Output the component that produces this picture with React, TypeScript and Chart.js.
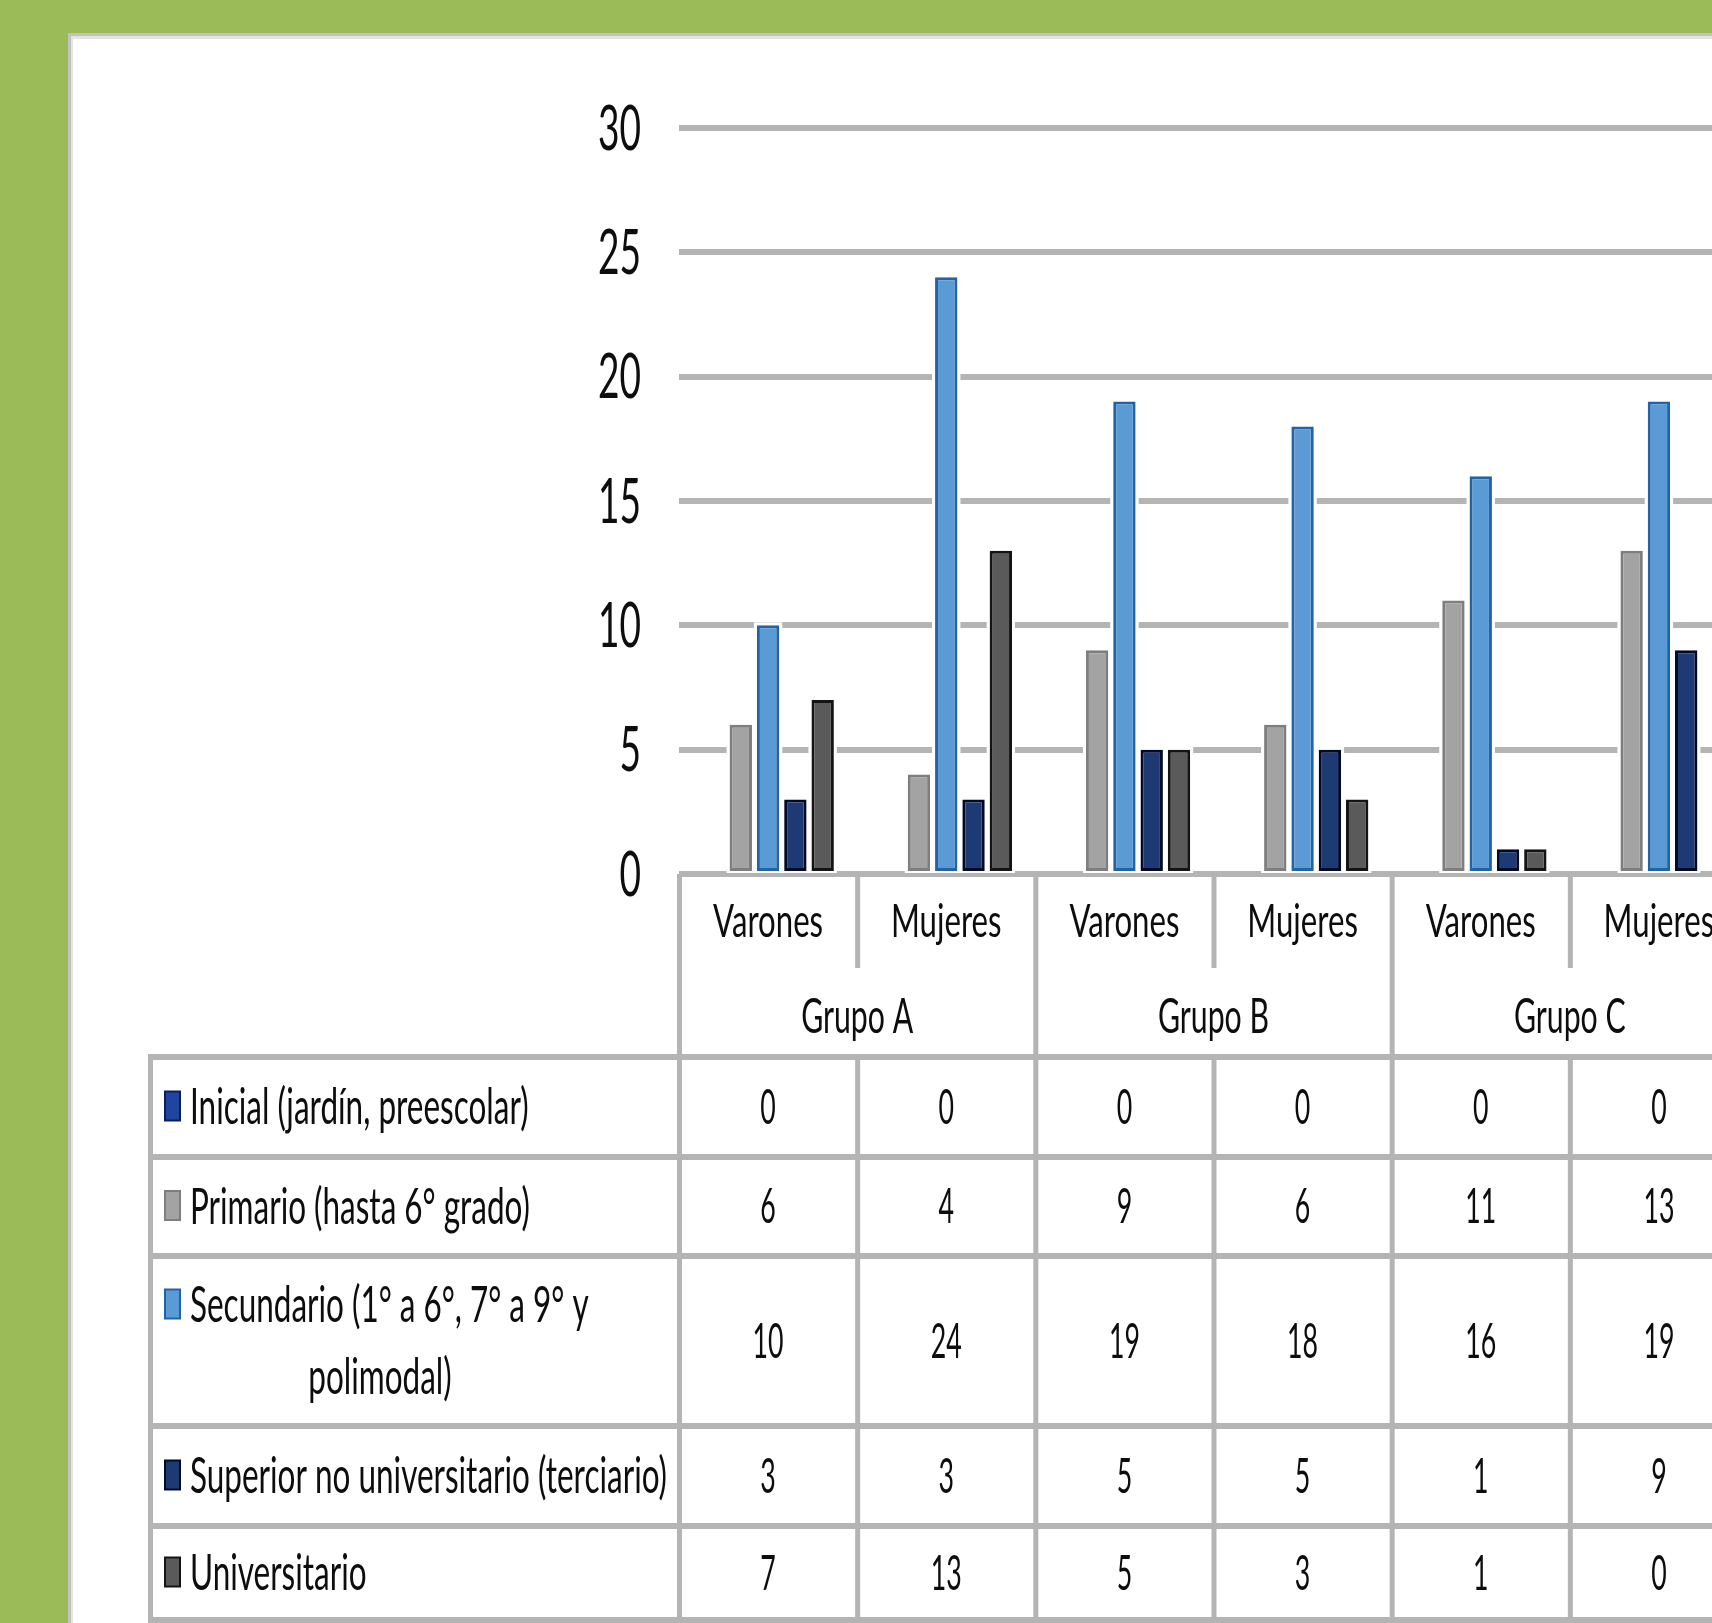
import { useEffect, useRef } from 'react';
import { Chart, registerables } from 'chart.js';

Chart.register(...registerables);

// ---------- data ----------
const GROUPS = ['Grupo A', 'Grupo B', 'Grupo C'];
const SUBGROUPS = ['Varones', 'Mujeres', 'Varones', 'Mujeres', 'Varones', 'Mujeres'];
const SERIES_LINES = [
  ['Inicial (jardín, preescolar)'],
  ['Primario (hasta 6° grado)'],
  ['Secundario (1° a 6°, 7° a 9° y', 'polimodal)'],
  ['Superior no universitario (terciario)'],
  ['Universitario'],
];
const INICIAL = [0, 0, 0, 0, 0, 0];
const PRIMARIO = [6, 4, 9, 6, 11, 13];
const SECUNDARIO = [10, 24, 19, 18, 16, 19];
const SUPERIOR = [3, 3, 5, 5, 1, 9];
const UNIVERSITARIO = [7, 13, 5, 3, 1, 0];
const Y_MIN = 0;
const Y_MAX = 30;
const Y_STEP = 5;

// ---------- style / layout ----------
const FILLS = ['#1f45a0', '#a3a3a3', '#5b9bd5', '#1d3a74', '#5a5a5a'];
const BORDERS = ['#0b1f5e', '#7e7e7e', '#2262a6', '#000a26', '#141414'];
const GREEN = '#9bbb59';
const LINE_COLOR = '#b4b4b4';
const TEXT_COLOR = '#0d0d0d';
const FONT_FAMILY = 'Lato, "Open Sans", "DejaVu Sans", sans-serif';

const CANVAS_W = 1800;
const CANVAS_H = 1623;
const PLOT_LEFT = 679;
const PLOT_RIGHT = 1748;
const PLOT_TOP = 128;
const PLOT_BOTTOM = 874;
const TICK_RIGHT = 641;
const CAT_ROW_Y = 920;
const CAT_ROW_BOTTOM = 968;
const GROUP_ROW_Y = 1015;
const TABLE_LEFT = 150;
const TABLE_TOP = 1057;
const ROW_LINES = [1157, 1256, 1426, 1526, 1620];
const KEY_X = 164;
const KEY_W = 17;
const KEY_H = 31;
const LABEL_X = 190;
const WRAP_LINE_X = 380;
const LINE_GAP = 72;

type TStyle = { font: string; sx: number; cap: number };

function makeStyle(ctx: CanvasRenderingContext2D, cap: number, ref: string, refW: number): TStyle {
  ctx.save();
  ctx.font = `100px ${FONT_FAMILY}`;
  const capH = ctx.measureText('H').actualBoundingBoxAscent || 71.6;
  const size = (100 * cap) / capH;
  const font = `${size.toFixed(2)}px ${FONT_FAMILY}`;
  ctx.font = font;
  const w = ctx.measureText(ref).width || refW;
  ctx.restore();
  return { font, sx: refW / w, cap };
}

function drawText(
  ctx: CanvasRenderingContext2D,
  text: string,
  x: number,
  yCenter: number,
  align: CanvasTextAlign,
  st: TStyle
) {
  ctx.save();
  ctx.font = st.font;
  ctx.fillStyle = TEXT_COLOR;
  ctx.textAlign = align;
  ctx.textBaseline = 'alphabetic';
  ctx.translate(x, yCenter + st.cap / 2);
  ctx.scale(st.sx, 1);
  ctx.fillText(text, 0, 0);
  ctx.restore();
}

const backgroundPlugin = {
  id: 'bgPanel',
  beforeDraw(chart: any) {
    const ctx = chart.ctx as CanvasRenderingContext2D;
    ctx.save();
    ctx.fillStyle = GREEN;
    ctx.fillRect(0, 0, chart.width, chart.height);
    ctx.fillStyle = '#c2c2c2';
    ctx.fillRect(68, 33, chart.width, chart.height);
    ctx.fillStyle = '#e4e4e4';
    ctx.fillRect(71, 36, chart.width, chart.height);
    ctx.fillStyle = '#ffffff';
    ctx.fillRect(73, 39, chart.width, chart.height);
    ctx.restore();
  },
};

const haloPlugin = {
  id: 'barHalo',
  beforeDatasetsDraw(chart: any) {
    const ctx = chart.ctx as CanvasRenderingContext2D;
    ctx.save();
    ctx.fillStyle = '#ffffff';
    chart.data.datasets.forEach((ds: any, di: number) => {
      const meta = chart.getDatasetMeta(di);
      meta.data.forEach((el: any, i: number) => {
        if (!ds.data[i]) return;
        const w = el.width;
        ctx.fillRect(el.x - w / 2 - 3, el.y - 3, w + 6, el.base - el.y + 5);
      });
    });
    ctx.restore();
  },
};

const tablePlugin = {
  id: 'dataTable',
  afterDraw(chart: any) {
    const ctx = chart.ctx as CanvasRenderingContext2D;
    const xs = chart.scales.x;
    const ys = chart.scales.y;
    const n = SUBGROUPS.length;
    const catW = (xs.right - xs.left) / n;
    const bounds: number[] = [];
    for (let i = 0; i <= n; i++) {
      bounds.push(i < n ? xs.getPixelForValue(i) - catW / 2 : xs.getPixelForValue(n - 1) + catW / 2);
    }
    const base = ys.getPixelForValue(0);
    const tableBottom = ROW_LINES[ROW_LINES.length - 1];

    const tickSt = makeStyle(ctx, 45, '30', 43);
    const catSt = makeStyle(ctx, 34, 'Varones', 110);
    const grpSt = makeStyle(ctx, 35, 'Grupo A', 112);
    const lblSt = makeStyle(ctx, 36, 'Superior no universitario (terciario)', 477);
    const valSt = makeStyle(ctx, 35, '10', 31);

    // y tick labels
    ys.ticks.forEach((t: any) => {
      drawText(ctx, String(t.value), TICK_RIGHT, ys.getPixelForValue(t.value) - 1, 'right', tickSt);
    });

    // lines
    ctx.save();
    ctx.fillStyle = LINE_COLOR;
    const hLines = [TABLE_TOP, ...ROW_LINES];
    hLines.forEach((yy) => ctx.fillRect(TABLE_LEFT - 2, yy - 3, chart.width, 6));
    ctx.fillRect(TABLE_LEFT - 2, TABLE_TOP - 3, 5, tableBottom - TABLE_TOP + 6);
    bounds.forEach((b, i) => {
      if (i % 2 === 0) {
        ctx.fillRect(b - 2, base, 5, tableBottom - base);
      } else {
        ctx.fillRect(b - 2, base, 5, CAT_ROW_BOTTOM - base);
        ctx.fillRect(b - 2, TABLE_TOP, 5, tableBottom - TABLE_TOP);
      }
    });
    ctx.restore();

    // category labels
    SUBGROUPS.forEach((s, i) => drawText(ctx, s, xs.getPixelForValue(i), CAT_ROW_Y, 'center', catSt));
    GROUPS.forEach((g, gi) => {
      const cx = (bounds[gi * 2] + bounds[gi * 2 + 2]) / 2;
      drawText(ctx, g, cx, GROUP_ROW_Y, 'center', grpSt);
    });

    // table rows
    const series = chart.data.datasets;
    series.forEach((ds: any, r: number) => {
      const top = hLines[r];
      const bot = hLines[r + 1];
      const mid = (top + bot) / 2 - 1;
      const lines: string[] = SERIES_LINES[r];
      const firstY = lines.length > 1 ? mid - LINE_GAP / 2 : mid;
      // legend key
      ctx.save();
      ctx.fillStyle = BORDERS[r];
      ctx.fillRect(KEY_X, firstY - KEY_H / 2, KEY_W, KEY_H);
      ctx.fillStyle = FILLS[r];
      ctx.fillRect(KEY_X + 2, firstY - KEY_H / 2 + 2, KEY_W - 4, KEY_H - 4);
      ctx.restore();
      lines.forEach((ln, li) => {
        if (li === 0) drawText(ctx, ln, LABEL_X, firstY, 'left', lblSt);
        else drawText(ctx, ln, WRAP_LINE_X, firstY + li * LINE_GAP, 'center', lblSt);
      });
      ds.data.forEach((v: number, i: number) => {
        drawText(ctx, String(v), xs.getPixelForValue(i), mid, 'center', valSt);
      });
    });
  },
};

export default function App() {
  const ref = useRef<HTMLCanvasElement | null>(null);

  useEffect(() => {
    document.body.style.margin = '0';
    const canvas = ref.current;
    if (!canvas) return;
    const values = [INICIAL, PRIMARIO, SECUNDARIO, SUPERIOR, UNIVERSITARIO];
    const chart = new Chart(canvas, {
      type: 'bar',
      data: {
        labels: SUBGROUPS.map((s, i) => [s, GROUPS[Math.floor(i / 2)]]),
        datasets: values.map((vals, i) => ({
          label: SERIES_LINES[i].join(' '),
          data: vals,
          backgroundColor: FILLS[i],
          borderColor: BORDERS[i],
          borderWidth: (c: any) => (c.raw ? 3 : 0),
          borderSkipped: false,
          categoryPercentage: 0.766,
          barPercentage: 0.82,
        })),
      },
      options: {
        responsive: false,
        maintainAspectRatio: false,
        devicePixelRatio: 1,
        animation: false,
        layout: {
          padding: {
            left: PLOT_LEFT,
            right: CANVAS_W - PLOT_RIGHT,
            top: PLOT_TOP,
            bottom: CANVAS_H - PLOT_BOTTOM,
          },
        },
        plugins: {
          legend: { display: false },
          tooltip: { enabled: false },
          title: { display: false },
        },
        scales: {
          x: {
            type: 'category',
            display: false,
            offset: true,
            grid: { display: false },
          },
          y: {
            min: Y_MIN,
            max: Y_MAX,
            ticks: { stepSize: Y_STEP, display: false },
            grid: { color: LINE_COLOR, lineWidth: 6, drawTicks: false },
            border: { display: false },
            afterFit: (scale: any) => {
              scale.width = 0;
            },
          },
        },
      },
      plugins: [backgroundPlugin, haloPlugin, tablePlugin],
    } as any);
    return () => chart.destroy();
  }, []);

  return (
    <div
      style={{
        position: 'fixed',
        left: 0,
        top: 0,
        width: '100vw',
        height: '100vh',
        overflow: 'hidden',
        background: GREEN,
      }}
    >
      <canvas
        ref={ref}
        width={CANVAS_W}
        height={CANVAS_H}
        style={{ display: 'block', width: CANVAS_W, height: CANVAS_H }}
      />
    </div>
  );
}
